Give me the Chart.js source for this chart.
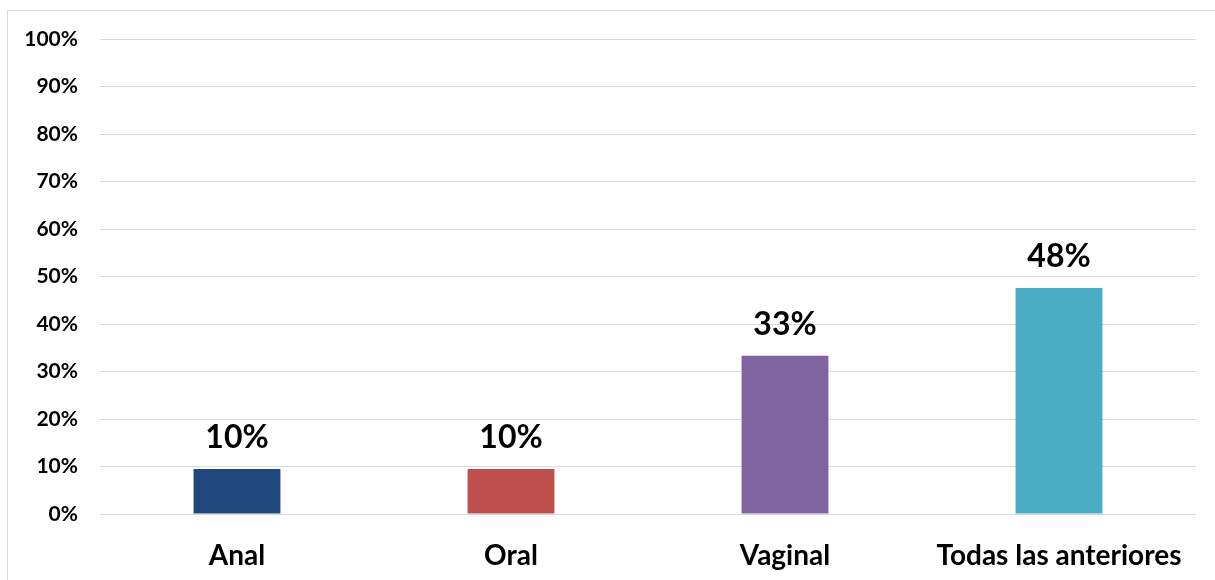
<!DOCTYPE html>
<html>
<head>
<meta charset="utf-8">
<script src="https://cdn.jsdelivr.net/npm/chart.js@4.4.1/dist/chart.umd.min.js"></script>
<style>
  html, body { margin: 0; padding: 0; background: #fff; }
  canvas { display: block; }
</style>
</head>
<body>
<canvas id="myChart" width="1215" height="580"></canvas>
<script>
const categories = ['Anal', 'Oral', 'Vaginal', 'Todas las anteriores'];
const values = [9.5, 9.5, 33.3, 47.6];
const barColors = ['#1f497d', '#c0504d', '#8064a2', '#4bacc6'];
const yTicks = [0, 10, 20, 30, 40, 50, 60, 70, 80, 90, 100];

const fontFamily = 'Lato, "Open Sans", sans-serif';

// light grey frame round the chart, like the spreadsheet's chart area
const frame = {
  id: 'frame',
  beforeDraw(chart) {
    const c = chart.ctx;
    c.save();
    c.fillStyle = '#fff';
    c.fillRect(0, 0, chart.width, chart.height);
    c.strokeStyle = '#d9d9d9';
    c.lineWidth = 1;
    c.strokeRect(7.5, 10.5, chart.width + 20, chart.height + 20);
    c.restore();
  }
};

// percent labels above each bar
const barLabels = {
  id: 'barLabels',
  afterDatasetsDraw(chart) {
    const c = chart.ctx;
    const meta = chart.getDatasetMeta(0);
    c.save();
    c.font = 'bold 32px ' + fontFamily;
    c.fillStyle = '#000';
    c.textAlign = 'center';
    c.textBaseline = 'alphabetic';
    meta.data.forEach((bar, i) => {
      c.fillText(Math.round(values[i]) + '%', bar.x, bar.y - 21);
    });
    c.restore();
  }
};

const ctx = document.getElementById('myChart').getContext('2d');
const myChart = new Chart(ctx, {
  type: 'bar',
  data: {
    labels: categories,
    datasets: [{
      data: values,
      backgroundColor: barColors,
      borderWidth: 0,
      categoryPercentage: 1,
      barPercentage: 0.317
    }]
  },
  options: {
    responsive: false,
    animation: false,
    devicePixelRatio: 1,
    layout: {
      padding: { top: 39, right: 19, bottom: 0, left: 0 }
    },
    plugins: {
      legend: { display: false },
      tooltip: { enabled: false }
    },
    scales: {
      x: {
        grid: { display: false },
        border: { display: false },
        ticks: {
          color: '#000',
          padding: 17,
          font: { family: fontFamily, size: 28, weight: 'bold' }
        },
        afterFit(scale) { scale.height = 66; }
      },
      y: {
        min: 0,
        max: 100,
        afterBuildTicks(scale) {
          scale.ticks = yTicks.map(v => ({ value: v }));
        },
        grid: { color: '#d9d9d9', lineWidth: 1, drawTicks: false },
        border: { display: false },
        ticks: {
          color: '#000',
          padding: 22,
          font: { family: fontFamily, size: 21, weight: 'bold' },
          callback: v => v + '%'
        },
        afterFit(scale) { scale.width = 100; }
      }
    }
  },
  plugins: [frame, barLabels]
});
</script>
</body>
</html>
